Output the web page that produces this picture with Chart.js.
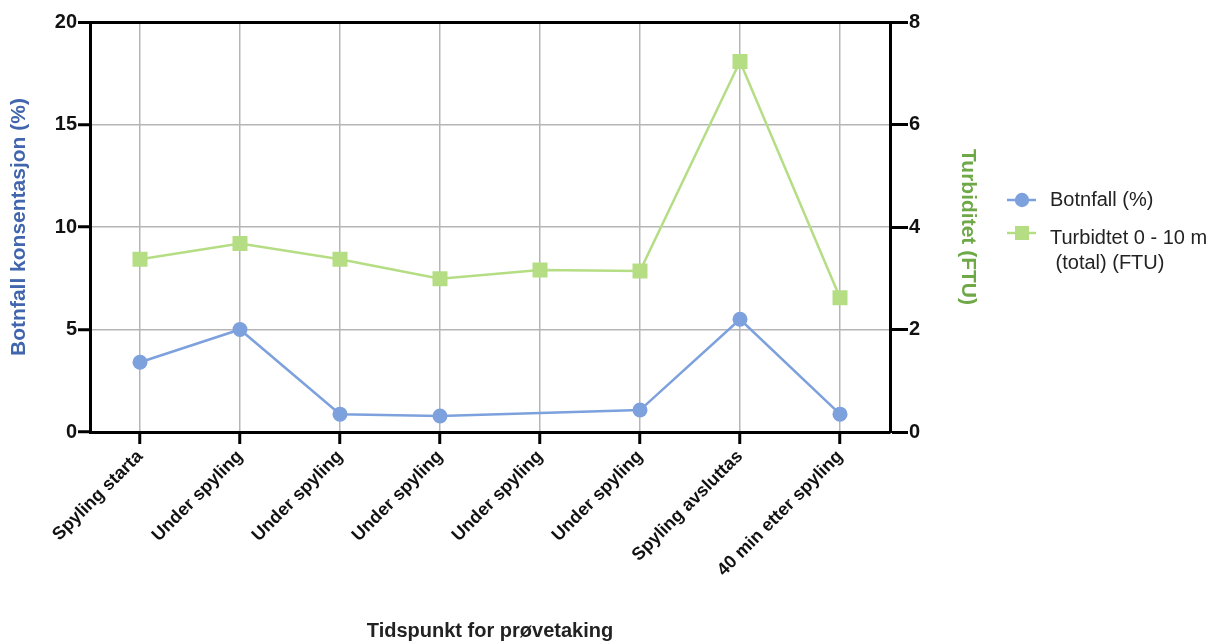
<!DOCTYPE html>
<html>
<head>
<meta charset="utf-8">
<script src="https://cdn.jsdelivr.net/npm/chart.js@4/dist/chart.umd.min.js"></script>
<style>
  html, body { margin: 0; padding: 0; background: #fff; }
  #wrap { width: 1214px; height: 643px; }
</style>
</head>
<body>
<div id="wrap"><canvas id="chart"></canvas></div>
<script>
// Prøvetaking under spyling
const categories = ['Spyling starta', 'Under spyling', 'Under spyling', 'Under spyling',
                    'Under spyling', 'Under spyling', 'Spyling avsluttas', '40 min etter spyling'];
const botnfall = [3.4, 5.0, 0.87, 0.78, null, 1.07, 5.5, 0.87];        // % (venstre akse)
const turbiditet = [3.37, 3.68, 3.37, 2.99, 3.16, 3.14, 7.23, 2.62];   // FTU (høyre akse)
const leftMax = 20, leftStep = 5;
const rightMax = 8, rightStep = 2;

const BLUE = 'rgb(125, 161, 221)';
const GREEN = 'rgb(181, 221, 132)';
const GRID = '#b5b5b5';
const FONT = "'Liberation Sans', Arial, Helvetica, sans-serif";

// Legende til høyre, tegnet selv for å få to linjer på turbiditet
const sideLegend = {
    id: 'sideLegend',
    afterDraw(chart) {
        const ctx = chart.ctx;
        const x0 = chart.chartArea.right + 117;
        const rows = [{ mark: 200, text: 200 }, { mark: 233, text: 238 }];
        ctx.save();
        chart.data.datasets.forEach((ds, i) => {
            const r = rows[i];
            ctx.strokeStyle = ds.borderColor;
            ctx.lineWidth = 2.5;
            ctx.beginPath();
            ctx.moveTo(x0, r.mark);
            ctx.lineTo(x0 + 29, r.mark);
            ctx.stroke();
            ctx.fillStyle = ds.backgroundColor;
            ctx.beginPath();
            if (ds.pointStyle === 'rect') {
                ctx.rect(x0 + 15 - 7, r.mark - 7, 14, 14);
            } else {
                ctx.arc(x0 + 15, r.mark, 7.2, 0, Math.PI * 2);
            }
            ctx.fill();
            ctx.fillStyle = '#222';
            ctx.font = '20px ' + FONT;
            ctx.textBaseline = 'middle';
            const lines = Array.isArray(ds.label) ? ds.label : [ds.label];
            lines.forEach((t, j) => ctx.fillText(t, x0 + 43, r.text + j * 25));
        });
        ctx.restore();
    }
};

new Chart(document.getElementById('chart'), {
    type: 'line',
    data: {
        labels: categories,
        datasets: [{
            label: 'Botnfall (%)',
            data: botnfall,
            yAxisID: 'y',
            borderColor: BLUE,
            backgroundColor: BLUE,
            borderWidth: 2.5,
            pointStyle: 'circle',
            pointRadius: 7.5,
            pointBorderWidth: 0,
            spanGaps: true,
            tension: 0
        }, {
            label: ['Turbidtet 0 - 10 m', ' (total) (FTU)'],
            data: turbiditet,
            yAxisID: 'y2',
            borderColor: GREEN,
            backgroundColor: GREEN,
            borderWidth: 2.5,
            pointStyle: 'rect',
            pointRadius: 10.6,
            pointBorderWidth: 0,
            tension: 0
        }]
    },
    options: {
        responsive: true,
        maintainAspectRatio: false,
        animation: false,
        layout: { padding: { top: 22, right: 224, bottom: 0, left: 0 } },
        plugins: {
            legend: { display: false },
            tooltip: { enabled: false }
        },
        scales: {
            x: {
                offset: true,
                afterFit(s) { s.height = 211; },
                grid: {
                    offset: false,
                    color: GRID,
                    lineWidth: 1.5,
                    tickColor: '#000',
                    tickLength: 12,
                    tickWidth: 3
                },
                border: { color: '#000', width: 3 },
                ticks: {
                    autoSkip: false,
                    maxRotation: 45,
                    minRotation: 45,
                    color: '#111',
                    padding: 2,
                    font: { family: FONT, size: 18, weight: 'bold' }
                },
                title: {
                    display: true,
                    text: 'Tidspunkt for prøvetaking',
                    color: '#222',
                    padding: { top: 4, bottom: 0 },
                    font: { family: FONT, size: 20, weight: 'bold' }
                }
            },
            y: {
                position: 'left',
                min: 0,
                max: leftMax,
                afterFit(s) { s.width = 90; },
                grid: {
                    color: ctx => ctx.tick && ctx.tick.value === leftMax ? '#000' : GRID,
                    lineWidth: ctx => ctx.tick && ctx.tick.value === leftMax ? 3 : 1.5,
                    tickColor: '#000',
                    tickLength: 12,
                    tickWidth: 3
                },
                border: { color: '#000', width: 3 },
                ticks: {
                    stepSize: leftStep,
                    color: '#111',
                    padding: 1,
                    font: { family: FONT, size: 20, weight: 'bold' }
                },
                title: {
                    display: true,
                    text: 'Botnfall konsentasjon (%)',
                    color: '#4266ad',
                    padding: { top: 7, bottom: 0 },
                    font: { family: FONT, size: 21, weight: 'bold' }
                }
            },
            y2: {
                position: 'right',
                min: 0,
                max: rightMax,
                afterFit(s) { s.width = 100; },
                grid: {
                    drawOnChartArea: false,
                    tickColor: '#000',
                    tickLength: 18,
                    tickWidth: 3
                },
                border: { color: '#000', width: 3 },
                ticks: {
                    stepSize: rightStep,
                    color: '#111',
                    padding: 1,
                    font: { family: FONT, size: 20, weight: 'bold' }
                },
                title: {
                    display: true,
                    text: 'Turbiditet (FTU)',
                    color: '#6ea847',
                    padding: { top: 10, bottom: 0 },
                    font: { family: FONT, size: 21, weight: 'bold' }
                }
            }
        }
    },
    plugins: [sideLegend]
});
</script>
</body>
</html>
